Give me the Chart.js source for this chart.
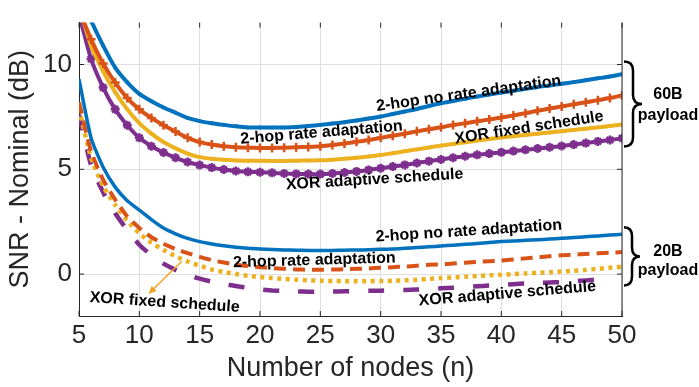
<!DOCTYPE html>
<html>
<head>
<meta charset="utf-8">
<script src="https://cdn.jsdelivr.net/npm/chart.js@4.4.1/dist/chart.umd.min.js"></script>
<style>
  html, body { margin: 0; padding: 0; background: #fff; }
  #wrap { width: 699px; height: 387px; }
</style>
</head>
<body>
<div id="wrap"><canvas id="snrChart" width="699" height="387"></canvas></div>
<script>
// number of nodes (x)
const nodes = [5, 6, 7, 8, 9, 10, 11, 12, 13, 14, 15, 16, 17, 18, 19, 20, 21, 22, 23, 24, 25, 26, 27, 28,
  29, 30, 31, 32, 33, 34, 35, 36, 37, 38, 39, 40, 41, 42, 43, 44, 45, 46, 47, 48, 49, 50];

const xTicks = [5, 10, 15, 20, 25, 30, 35, 40, 45, 50];
const yTicks = [0, 5, 10];

// 60B payload
const hopNoRate60 = [13.5, 12.1, 10.9, 9.85, 9.15, 8.6, 8.25, 7.95, 7.7, 7.45, 7.3, 7.2, 7.12, 7.05, 7.0, 7.0,
  6.99, 7.0, 7.02, 7.07, 7.12, 7.18, 7.25, 7.33, 7.42, 7.52, 7.64, 7.76, 7.88, 8.02, 8.15, 8.26, 8.37, 8.47,
  8.57, 8.66, 8.75, 8.84, 8.93, 9.0, 9.08, 9.16, 9.25, 9.34, 9.43, 9.54];
const hopRate60 = [12.6, 11.2, 10.05, 9.14, 8.4, 7.86, 7.45, 7.1, 6.8, 6.5, 6.3, 6.18, 6.1, 6.05, 6.03, 6.02,
  6.02, 6.03, 6.05, 6.07, 6.1, 6.16, 6.23, 6.31, 6.4, 6.5, 6.6, 6.7, 6.81, 6.91, 7.01, 7.11, 7.2, 7.29,
  7.38, 7.47, 7.57, 7.68, 7.79, 7.9, 8.0, 8.1, 8.2, 8.3, 8.4, 8.52];
const xorFixed60 = [12.8, 10.9, 9.68, 8.68, 7.86, 7.2, 6.7, 6.3, 6.0, 5.75, 5.58, 5.5, 5.45, 5.42, 5.41, 5.41,
  5.4, 5.4, 5.41, 5.42, 5.43, 5.46, 5.5, 5.55, 5.61, 5.68, 5.77, 5.86, 5.95, 6.04, 6.13, 6.21, 6.29, 6.37,
  6.45, 6.52, 6.58, 6.64, 6.7, 6.76, 6.82, 6.88, 6.94, 7.0, 7.07, 7.14];
const xorAdaptive60 = [12.4, 10.27, 8.9, 7.86, 7.1, 6.5, 6.1, 5.8, 5.55, 5.35, 5.2, 5.08, 4.99, 4.92, 4.88, 4.86,
  4.83, 4.8, 4.78, 4.77, 4.77, 4.8, 4.85, 4.9, 4.97, 5.05, 5.13, 5.21, 5.3, 5.39, 5.47, 5.55, 5.62, 5.69,
  5.75, 5.81, 5.87, 5.93, 5.99, 6.05, 6.11, 6.18, 6.25, 6.33, 6.4, 6.48];

// 20B payload
const hopNoRate20 = [9.3, 6.5, 5.1, 4.15, 3.5, 3.05, 2.6, 2.2, 1.92, 1.7, 1.55, 1.44, 1.35, 1.28, 1.23, 1.2,
  1.17, 1.15, 1.14, 1.13, 1.13, 1.13, 1.14, 1.15, 1.16, 1.18, 1.2, 1.23, 1.27, 1.3, 1.34, 1.38, 1.42, 1.46,
  1.51, 1.55, 1.58, 1.61, 1.64, 1.67, 1.71, 1.74, 1.78, 1.82, 1.86, 1.9];
const hopRate20 = [8.2, 5.85, 4.5, 3.55, 2.75, 2.2, 1.76, 1.45, 1.2, 1.0, 0.82, 0.67, 0.55, 0.45, 0.38, 0.33,
  0.29, 0.25, 0.22, 0.21, 0.21, 0.22, 0.23, 0.25, 0.27, 0.3, 0.33, 0.36, 0.4, 0.44, 0.47, 0.5, 0.54, 0.58,
  0.61, 0.65, 0.7, 0.75, 0.8, 0.85, 0.9, 0.93, 0.96, 0.99, 1.02, 1.05];
const xorFixed20 = [7.9, 5.55, 4.2, 3.3, 2.55, 1.95, 1.5, 1.15, 0.85, 0.6, 0.4, 0.22, 0.1, 0.0, -0.08, -0.14,
  -0.19, -0.23, -0.27, -0.3, -0.32, -0.33, -0.34, -0.34, -0.34, -0.33, -0.32, -0.3, -0.27, -0.23, -0.19,
  -0.16, -0.13, -0.09, -0.06, -0.03, 0.0, 0.03, 0.06, 0.09, 0.12, 0.16, 0.2, 0.25, 0.3, 0.35];
const xorAdaptive20 = [7.6, 5.2, 3.9, 2.9, 2.1, 1.4, 0.9, 0.5, 0.2, -0.05, -0.22, -0.36, -0.47, -0.57, -0.66,
  -0.73, -0.78, -0.81, -0.83, -0.84, -0.84, -0.83, -0.82, -0.81, -0.8, -0.79, -0.77, -0.76, -0.74, -0.71,
  -0.68, -0.65, -0.61, -0.58, -0.55, -0.52, -0.48, -0.45, -0.42, -0.4, -0.38, -0.34, -0.3, -0.26, -0.22, null];

const FONT = '"Liberation Sans", Arial, Helvetica, sans-serif';
const INK = '#262626';
const BLUE = '#0072BD';
const ORANGE = '#D95319';
const YELLOW = '#EDB120';
const PURPLE = '#7E2F8E';

const pts = arr => nodes.map((n, i) => ({ x: n, y: arr[i] }));

// text labels on the plot (data coordinates, angle in degrees)
const notes = [
  { text: '2-hop no rate adaptation', x: 37.3, y: 8.61, angle: -8 },
  { text: '2-hop rate adaptation', x: 25.1, y: 6.75, angle: -4.7 },
  { text: 'XOR fixed schedule', x: 42.3, y: 6.98, angle: -8.8 },
  { text: 'XOR adaptive schedule', x: 29.5, y: 4.51, angle: -3.5 },
  { text: '2-hop no rate adaptation', x: 37.3, y: 2.05, angle: -3.7 },
  { text: '2-hop rate adaptation', x: 24.5, y: 0.65, angle: -1.7 },
  { text: 'XOR adaptive schedule', x: 40.5, y: -0.94, angle: -4.7 },
  { text: 'XOR fixed schedule', x: 12.1, y: -1.36, angle: 3.8 }
];

function drawBrace(ctx, x0, yT, yB, w) {
  const xm = x0 + w / 2;
  const yM = (yT + yB) / 2;
  const r = 9;
  ctx.beginPath();
  ctx.moveTo(x0, yT);
  ctx.quadraticCurveTo(xm, yT, xm, yT + r);
  ctx.lineTo(xm, yM - r);
  ctx.quadraticCurveTo(xm, yM, x0 + w, yM);
  ctx.quadraticCurveTo(xm, yM, xm, yM + r);
  ctx.lineTo(xm, yB - r);
  ctx.quadraticCurveTo(xm, yB, x0, yB);
  ctx.stroke();
}

const overlay = {
  id: 'overlay',
  afterDatasetsDraw(chart) {
    const { ctx, chartArea: a } = chart;
    const xs = chart.scales.x, ys = chart.scales.y;
    ctx.save();

    // right frame and inward ticks
    ctx.strokeStyle = INK;
    ctx.lineWidth = 1;
    ctx.beginPath();
    ctx.moveTo(a.right, a.top);
    ctx.lineTo(a.right, a.bottom);
    xTicks.forEach(v => {
      const px = xs.getPixelForValue(v);
      ctx.moveTo(px, a.bottom); ctx.lineTo(px, a.bottom - 5);
      ctx.moveTo(px, a.top); ctx.lineTo(px, a.top + 5);
    });
    yTicks.forEach(v => {
      const py = ys.getPixelForValue(v);
      ctx.moveTo(a.left, py); ctx.lineTo(a.left + 5, py);
      ctx.moveTo(a.right, py); ctx.lineTo(a.right - 5, py);
    });
    ctx.stroke();

    // curve labels
    ctx.fillStyle = '#000';
    ctx.font = 'bold 16px ' + FONT;
    ctx.textAlign = 'center';
    ctx.textBaseline = 'middle';
    notes.forEach(n => {
      ctx.save();
      ctx.translate(xs.getPixelForValue(n.x), ys.getPixelForValue(n.y));
      ctx.rotate(n.angle * Math.PI / 180);
      ctx.fillText(n.text, 0, 0);
      ctx.restore();
    });

    // arrow to the 20B XOR fixed schedule curve
    const ax0 = xs.getPixelForValue(13.5), ay0 = ys.getPixelForValue(0.6);
    const ax1 = xs.getPixelForValue(10.75), ay1 = ys.getPixelForValue(-0.95);
    const ang = Math.atan2(ay1 - ay0, ax1 - ax0);
    ctx.strokeStyle = '#EFA21F';
    ctx.fillStyle = '#EFA21F';
    ctx.lineWidth = 1.5;
    ctx.beginPath();
    ctx.moveTo(ax0, ay0);
    ctx.lineTo(ax1 - 6 * Math.cos(ang), ay1 - 6 * Math.sin(ang));
    ctx.stroke();
    ctx.beginPath();
    ctx.moveTo(ax1, ay1);
    ctx.lineTo(ax1 - 8 * Math.cos(ang) + 3.5 * Math.sin(ang), ay1 - 8 * Math.sin(ang) - 3.5 * Math.cos(ang));
    ctx.lineTo(ax1 - 8 * Math.cos(ang) - 3.5 * Math.sin(ang), ay1 - 8 * Math.sin(ang) + 3.5 * Math.cos(ang));
    ctx.closePath();
    ctx.fill();

    // braces + payload labels
    ctx.strokeStyle = '#000';
    ctx.lineWidth = 2.5;
    drawBrace(ctx, a.right + 2, ys.getPixelForValue(10.14), ys.getPixelForValue(6.09), 18);
    drawBrace(ctx, a.right + 2, ys.getPixelForValue(2.23), ys.getPixelForValue(-0.55), 16);
    ctx.fillStyle = '#000';
    ctx.font = 'bold 16px ' + FONT;
    const tx = a.right + 46;
    ctx.fillText('60B', tx, ys.getPixelForValue(8.55));
    ctx.fillText('payload', tx, ys.getPixelForValue(7.55));
    ctx.fillText('20B', tx, ys.getPixelForValue(1.09));
    ctx.fillText('payload', tx, ys.getPixelForValue(0.18));

    ctx.restore();
  }
};

new Chart(document.getElementById('snrChart'), {
  type: 'line',
  data: {
    datasets: [
      { data: pts(hopNoRate60), borderColor: BLUE, backgroundColor: BLUE, borderWidth: 4,
        pointRadius: 2, pointStyle: 'circle', pointBorderWidth: 0, tension: 0.2 },
      { data: pts(hopRate60), borderColor: ORANGE, backgroundColor: ORANGE, borderWidth: 4,
        pointRadius: 4.5, pointStyle: 'cross', pointBorderWidth: 2.5, tension: 0.2 },
      { data: pts(xorFixed60), borderColor: YELLOW, backgroundColor: YELLOW, borderWidth: 4,
        pointRadius: 2, pointStyle: 'circle', pointBorderWidth: 0, tension: 0.2 },
      { data: pts(xorAdaptive60), borderColor: PURPLE, backgroundColor: PURPLE, borderWidth: 4,
        pointRadius: 4.5, pointStyle: 'star', pointBorderWidth: 2.5, tension: 0.2 },
      { data: pts(hopNoRate20), borderColor: BLUE, borderWidth: 3.5, pointRadius: 0, tension: 0.2 },
      { data: pts(hopRate20), borderColor: ORANGE, borderWidth: 4, borderDash: [12, 7],
        pointRadius: 0, tension: 0.2 },
      { data: pts(xorFixed20), borderColor: YELLOW, borderWidth: 4.5, borderDash: [4, 4.5],
        pointRadius: 0, tension: 0.2 },
      { data: pts(xorAdaptive20), borderColor: PURPLE, borderWidth: 4.5, borderDash: [16, 19],
        pointRadius: 0, tension: 0.2 }
    ]
  },
  options: {
    responsive: false,
    animation: false,
    layout: { padding: { top: 7, right: 77, left: 0, bottom: 0 } },
    plugins: { legend: { display: false }, tooltip: { enabled: false } },
    scales: {
      x: {
        type: 'linear',
        min: 5,
        max: 50,
        afterBuildTicks: s => { s.ticks = xTicks.map(v => ({ value: v })); },
        afterFit: s => { s.height = 71; },
        grid: { color: '#dfdfdf', drawTicks: false },
        border: { color: INK, width: 1 },
        ticks: { color: INK, font: { family: FONT, size: 26 }, padding: 4, maxRotation: 0 },
        title: { display: true, text: 'Number of nodes (n)', color: INK,
          font: { family: FONT, size: 27 }, padding: { top: 0, bottom: 2 } }
      },
      y: {
        min: -2,
        max: 12,
        afterBuildTicks: s => { s.ticks = yTicks.map(v => ({ value: v })); },
        afterFit: s => { s.width = 79; },
        grid: { color: '#dfdfdf', drawTicks: false },
        border: { color: INK, width: 1 },
        ticks: { color: INK, font: { family: FONT, size: 26 }, padding: 7 },
        title: { display: true, text: 'SNR - Nominal (dB)', color: INK,
          font: { family: FONT, size: 27 }, padding: { top: 4, bottom: 0 } }
      }
    }
  },
  plugins: [overlay]
});
</script>
</body>
</html>
